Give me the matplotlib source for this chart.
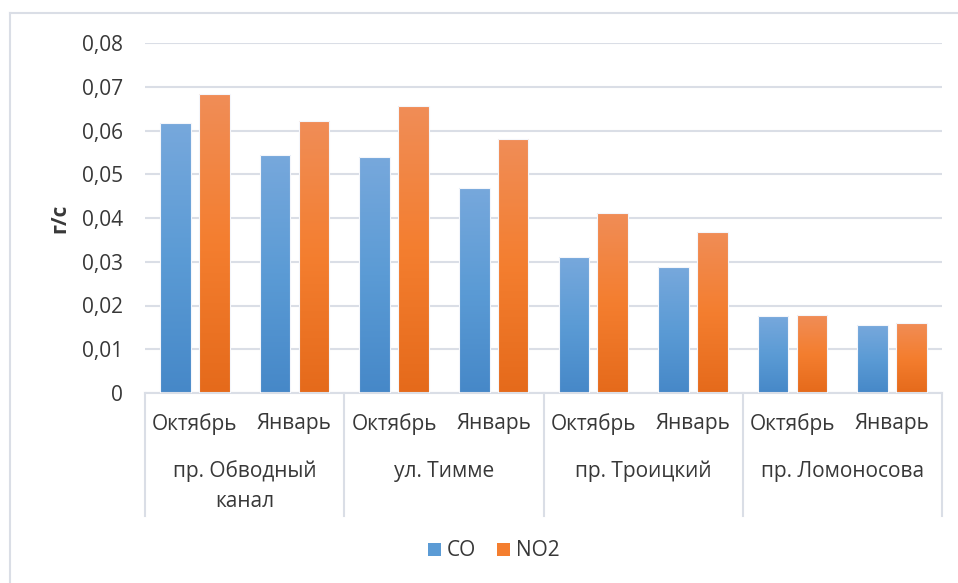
import numpy as np
import matplotlib
matplotlib.use("Agg")
import matplotlib.pyplot as plt
from matplotlib.colors import LinearSegmentedColormap
from matplotlib.patches import Patch
from matplotlib.lines import Line2D

plt.rcParams['font.family'] = ['Open Sans', 'DejaVu Sans']

# data
months = ['Октябрь', 'Январь']
streets = ['пр. Обводный\nканал', 'ул. Тимме', 'пр. Троицкий', 'пр. Ломоносова']
co = [0.0618, 0.0545, 0.0539, 0.0469, 0.0310, 0.0287, 0.0175, 0.0155]
no2 = [0.0683, 0.0621, 0.0656, 0.0580, 0.0412, 0.0369, 0.0178, 0.0161]
yticks = [0, 0.01, 0.02, 0.03, 0.04, 0.05, 0.06, 0.07, 0.08]
ytick_labels = ['0', '0,01', '0,02', '0,03', '0,04', '0,05', '0,06', '0,07', '0,08']

txt = '#383838'
grid = '#dadee6'
fs = 15

blue_cm = LinearSegmentedColormap.from_list('b', ['#4688c8', '#5b9bd5', '#77a8dc'])
orange_cm = LinearSegmentedColormap.from_list('o', ['#e56a1b', '#f47e2f', '#f08d57'])

W, H = 958, 583
fig = plt.figure(figsize=(W / 100, H / 100), dpi=100)
ax = fig.add_axes([145 / W, 1 - 393 / H, (942 - 145) / W, (393 - 43) / H])

x = np.arange(len(co))
off = 0.195
bw = 0.308

def grad_bars(xs, vals, cmap):
    bars = ax.bar(xs, vals, bw, facecolor='none', edgecolor='#f4f6fb', lw=0.8, zorder=3)
    g = np.linspace(0, 1, 256).reshape(-1, 1)
    for b in bars:
        x0, y0 = b.get_x(), b.get_y()
        im = ax.imshow(g, cmap=cmap, origin='lower', aspect='auto',
                       extent=[x0, x0 + b.get_width(), y0, y0 + b.get_height()],
                       zorder=2.5)
        im.set_clip_path(b)
    return bars

grad_bars(x - off, co, blue_cm)
grad_bars(x + off, no2, orange_cm)

ax.set_xlim(-0.5, len(co) - 0.5)
ax.set_ylim(0, 0.08)
ax.set_yticks(yticks)
ax.set_yticklabels(ytick_labels, fontsize=fs, color=txt)
ax.tick_params(axis='y', length=0, pad=16)
ax.set_xticks([])
for s in ['top', 'right', 'left']:
    ax.spines[s].set_visible(False)
ax.spines['bottom'].set_color(grid)
ax.spines['bottom'].set_linewidth(1.5)
ax.yaxis.grid(True, color=grid, lw=1.5)
ax.set_axisbelow(True)

# category labels
tr = ax.get_xaxis_transform()
for i in x:
    ax.text(i, -0.088, months[i % 2], transform=tr, ha='center', va='center',
            fontsize=fs, color=txt)
for j, st in enumerate(streets):
    ax.text(2 * j + 0.5, -0.193, st, transform=tr, ha='center', va='top',
            fontsize=fs, color=txt, linespacing=1.55)
for sx in np.arange(-0.5, len(co), 2):
    ax.add_line(Line2D([sx, sx], [0, -0.352], transform=tr, color=grid, lw=1.5,
                       clip_on=False))

fig.text(60 / W, 1 - 218 / H, 'г/с', rotation=90, ha='center', va='center',
         fontsize=fs, fontweight='bold', color=txt)

# chart frame
fig.add_artist(Line2D([10 / W, 10 / W], [0, 1 - 13 / H], transform=fig.transFigure,
                      color=grid, lw=1.5))
fig.add_artist(Line2D([10 / W, 1], [1 - 13 / H, 1 - 13 / H], transform=fig.transFigure,
                      color=grid, lw=1.5))

handles = [Patch(facecolor='#5b9bd5'), Patch(facecolor='#f47e2f')]
fig.legend(handles, ['CO', 'NO2'], loc='center', bbox_to_anchor=(494 / W, 1 - 551 / H),
           ncol=2, frameon=False, fontsize=fs, handlelength=0.6, handleheight=0.6,
           handletextpad=0.3, columnspacing=1.0, labelcolor=txt)

fig.savefig('out.png', dpi=100)
